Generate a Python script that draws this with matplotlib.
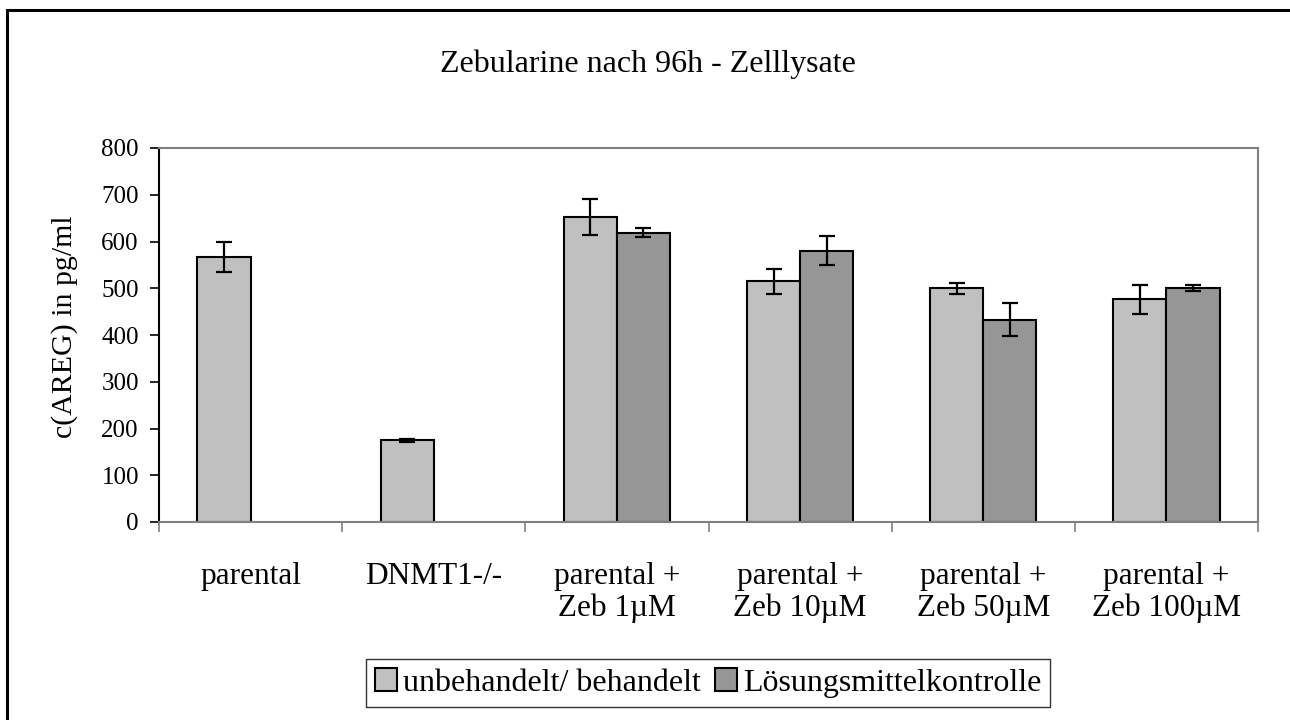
import matplotlib
matplotlib.use("Agg")
import matplotlib.pyplot as plt
from matplotlib.patches import Rectangle
import numpy as np

plt.rcParams['font.family'] = ['Liberation Serif', 'DejaVu Serif']

categories = ["parental", "DNMT1-/-", "parental +\nZeb 1\u00b5M", "parental +\nZeb 10\u00b5M",
              "parental +\nZeb 50\u00b5M", "parental +\nZeb 100\u00b5M"]
series_names = ["unbehandelt/ behandelt", "L\u00f6sungsmittelkontrolle"]
treated = [567, 175, 652, 515, 500, 476]
treated_err = [33, 3, 38, 27, 12, 31]
solvent = [np.nan, np.nan, 619, 580, 433, 501]
solvent_err = [np.nan, np.nan, 10, 31, 36, 7]
yticks = list(range(0, 801, 100))

W, H = 1290, 720
fig = plt.figure(figsize=(W / 100, H / 100), dpi=100)
ax = fig.add_axes([159 / W, 1 - 522 / H, (1258 - 159) / W, (522 - 148) / H])

x = np.arange(len(categories)) + 0.5
bw = 0.29
colors = ["#C0C0C0", "#969696"]
ax.bar(x - bw / 2, treated, bw, color=colors[0], edgecolor="black", linewidth=1.5,
       label=series_names[0], zorder=2)
ax.bar(x + bw / 2, solvent, bw, color=colors[1], edgecolor="black", linewidth=1.5,
       label=series_names[1], zorder=2)
ax.errorbar(x - bw / 2, treated, yerr=treated_err, fmt="none", ecolor="black",
            elinewidth=1.6, capsize=5.8, capthick=1.6, zorder=3)
ax.errorbar(x + bw / 2, solvent, yerr=solvent_err, fmt="none", ecolor="black",
            elinewidth=1.6, capsize=5.8, capthick=1.6, zorder=3)

ax.set_xlim(0, len(categories))
ax.set_ylim(0, 800)
ax.set_yticks(yticks)
ax.tick_params(axis="y", direction="out", length=6.5, width=1.2, labelsize=18, pad=8, color="black")
ax.set_xticks(np.arange(len(categories) + 1))
ax.set_xticklabels([])
ax.set_xticks(x, minor=True)
ax.set_xticklabels(categories, minor=True, fontsize=22.5, linespacing=1.1)
ax.tick_params(axis="x", which="major", direction="out", length=7, width=1.2, color="#808080")
ax.tick_params(axis="x", which="minor", length=0, pad=29)

ax.spines["left"].set_color("black")
ax.spines["left"].set_linewidth(1.5)
for s in ["bottom", "top", "right"]:
    ax.spines[s].set_color("#808080")
    ax.spines[s].set_linewidth(1.5)

ax.set_ylabel("c(AREG) in pg/ml", fontsize=21.5)
ax.yaxis.set_label_coords((78 - 159) / 1099, (522 - 327) / 374)
fig.text(648 / W, 1 - 64 / H, "Zebularine nach 96h - Zelllysate", ha="center", va="center", fontsize=23)

leg = fig.legend(loc="center", bbox_to_anchor=(708 / W, 1 - 683 / H), ncol=2, fontsize=23,
                 frameon=True, fancybox=False, shadow=False, handlelength=0.7, handleheight=0.7,
                 handletextpad=0.18, columnspacing=0.45, borderpad=0.28, borderaxespad=0)
leg.get_frame().set_edgecolor("black")
leg.get_frame().set_linewidth(1.0)
for h in leg.legend_handles:
    h.set_linewidth(1.5)

fig.patches.append(Rectangle((7 / W, 1 - 740 / H), (1310 - 7) / W, (740 - 10) / H,
                             transform=fig.transFigure, fill=False, edgecolor="black",
                             linewidth=2.2, clip_on=False))

fig.savefig("out.png", dpi=100)
